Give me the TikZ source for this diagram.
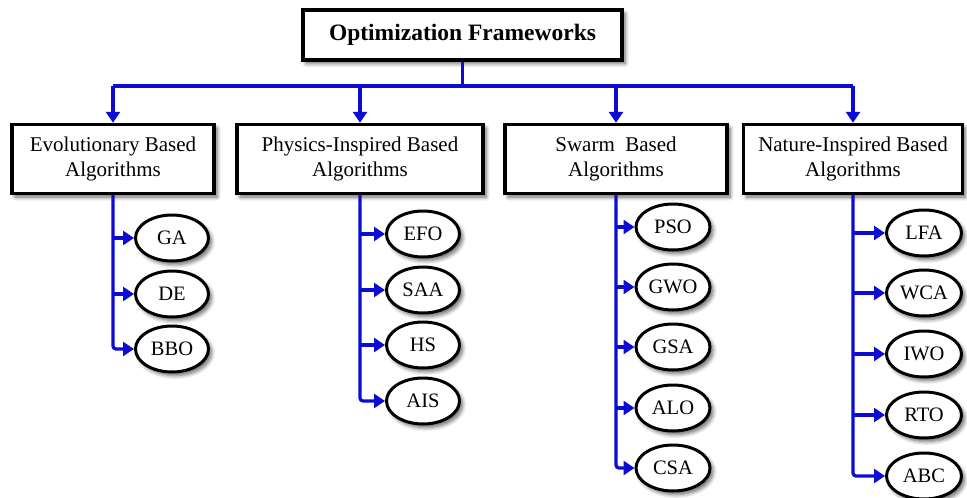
\documentclass[tikz,border=0pt]{standalone}
\usepackage{fontspec}
\setmainfont{Liberation Serif}
\usetikzlibrary{arrows.meta,shapes.geometric,shadows.blur}
\definecolor{linkblue}{RGB}{12,12,212}
\begin{document}
\begin{tikzpicture}[x=1pt,y=-1pt,
  shadowed/.style={blur shadow={shadow xshift=3pt,shadow yshift=-3.5pt,shadow blur steps=6,shadow blur radius=4pt,shadow opacity=60}},
  rootbox/.style={draw,line width=3.4pt,fill=white,shadowed,minimum width=319pt,minimum height=50pt,inner sep=0pt,font=\fontsize{23.5}{28}\selectfont\bfseries},
  catbox/.style={draw,line width=3.4pt,fill=white,shadowed,minimum height=69pt,align=center,inner sep=0pt,font=\fontsize{21}{25}\selectfont},
  algo/.style={ellipse,draw,line width=3pt,fill=white,shadowed,minimum width=73pt,minimum height=46pt,inner sep=0pt,font=\fontsize{20.5}{24}\selectfont},
  link/.style={draw=linkblue,line width=3.2pt,-{Triangle[length=11pt,width=14pt]}},
  trunk/.style={draw=linkblue,line width=3.2pt,rounded corners=3pt},
]
\useasboundingbox (0,0) rectangle (967,498);

% root and category boxes
\node[rootbox] (root) at (462.5,35) {Optimization Frameworks};
\node[catbox,minimum width=202pt] (evo) at (113,159) {Evolutionary Based\\Algorithms};
\node[catbox,minimum width=246pt] (phy) at (360,159) {Physics-Inspired Based\\Algorithms};
\node[catbox,minimum width=222pt] (swa) at (616,159) {Swarm\ \ Based\\Algorithms};
\node[catbox,minimum width=219pt] (nat) at (853,159) {Nature-Inspired Based\\Algorithms};

% top-level connectors
\coordinate (hub) at (462.5,86);
\draw[trunk] (root.south) -- (hub);
\draw[trunk] (evo.north |- hub) -- (nat.north |- hub);
\foreach \c in {evo,phy,swa,nat}
  \draw[link] (\c.north |- hub) -- (\c.north);

% evolutionary algorithms
\node[algo] (ga)  at (172,238) {GA};
\node[algo] (de)  at (172,294) {DE};
\node[algo] (bbo) at (172,349) {BBO};

% physics-inspired algorithms
\node[algo] (efo) at (423,234) {EFO};
\node[algo] (saa) at (423,290) {SAA};
\node[algo] (hs)  at (423,345) {HS};
\node[algo] (ais) at (423,401) {AIS};

% swarm algorithms
\node[algo,minimum width=74pt] (pso) at (673,227) {PSO};
\node[algo,minimum width=74pt] (gwo) at (673,287) {GWO};
\node[algo,minimum width=74pt] (gsa) at (673,347) {GSA};
\node[algo,minimum width=74pt] (alo) at (673,408) {ALO};
\node[algo,minimum width=74pt] (csa) at (673,468) {CSA};

% nature-inspired algorithms
\node[algo,minimum width=75pt] (lfa) at (924,233) {LFA};
\node[algo,minimum width=75pt] (wca) at (924,293) {WCA};
\node[algo,minimum width=75pt] (iwo) at (924,354) {IWO};
\node[algo,minimum width=75pt] (rto) at (924,415) {RTO};
\node[algo,minimum width=75pt] (abc) at (924,476) {ABC};

% branch connectors: a trunk down to the last child, then a tap to each child
\foreach \c/\last/\others in {evo/bbo/{ga,de},phy/ais/{efo,saa,hs},swa/csa/{pso,gwo,gsa,alo},nat/abc/{lfa,wca,iwo,rto}}{
  \draw[trunk,link] (\c.south) |- (\last.west);
  \foreach \k in \others
    \draw[link] (\c.south |- \k.west) -- (\k.west);
}
\end{tikzpicture}
\end{document}
